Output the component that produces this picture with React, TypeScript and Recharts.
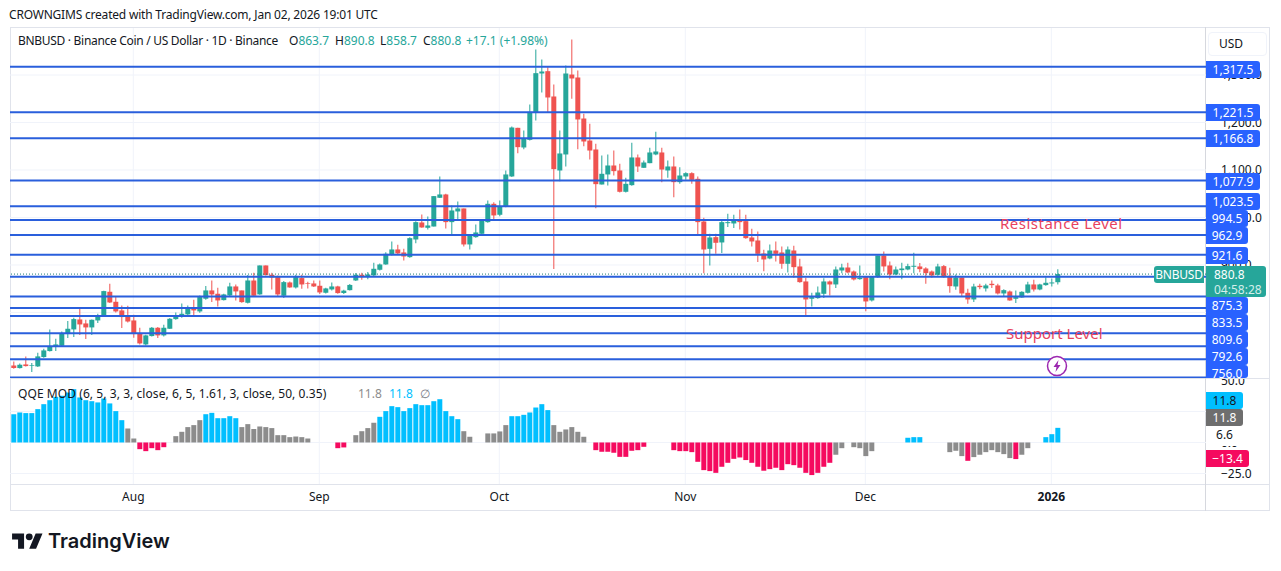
import {
  Bar,
  CartesianGrid,
  Cell,
  ComposedChart,
  ReferenceLine,
  XAxis,
  YAxis,
} from "recharts";

// daily candles, mid July 2025 to Jan 2 2026
const opens = [
  688.5, 682.9, 690.6, 687.8, 686.4, 706.1, 718.7, 727.8, 729.9, 754.5, 764.3, 785.3, 776.9, 768.5, 783.2,
  791.7, 843.6, 822.5, 804.3, 792.4, 783.2, 756.6, 732.7, 750.3, 767.8, 751.7, 765.7, 786, 790.9, 795.9,
  807.8, 802.2, 828.9, 846.4, 839.4, 826, 835.9, 854.8, 846.4, 820.4, 867.4, 838, 899, 879.4, 874.5,
  835.2, 863.2, 852.7, 872.4, 861.8, 861.1, 856.2, 841.5, 848.5, 854.8, 841, 847, 867.4, 879.4, 876,
  878, 889.9, 901.1, 921.5, 932.7, 926.4, 916.5, 953.7, 989.5, 978.3, 981, 1041.5, 1048.5, 990.2, 1012.7,
  1019, 943.2, 958.6, 965.7, 990.2, 1028.8, 1005.7, 1023.9, 1086.4, 1188.8, 1147.4, 1163.5, 1220.4, 1303.2, 1308.1,
  1254.8, 1099, 1132.7, 1301, 1294.8, 1208.4, 1162, 1143.2, 1069.5, 1090.6, 1109.5, 1099, 1054.1, 1068.1, 1126.4,
  1104.6, 1114.4, 1132.7, 1136.9, 1099, 1107.4, 1074.4, 1086.3, 1093.3, 1081.4, 991.6, 934, 958.6, 947.4, 988,
  987.4, 995.8, 992.3, 957.9, 951.6, 924.2, 913.7, 930.5, 926.3, 902.5, 930.5, 896.9, 865.3, 828.8, 830.2,
  839.3, 865.3, 859, 888.4, 894.7, 886.3, 870.2, 874.4, 825.3, 874.4, 920, 899, 880, 889.1, 890.5,
  896.2, 896.9, 892.6, 886.3, 879.3, 897.6, 877.2, 854.7, 873.7, 841.4, 827.4, 856.2, 850.6, 860.4, 856.9,
  840, 844.2, 828.8, 831.6, 841.4, 859, 848.4, 857.6, 861.1, 863.7,
];
const closes = [
  682.9, 689.9, 687.1, 689.2, 707.5, 720.1, 728.5, 732.7, 756.6, 765.7, 786, 774.8, 768.5, 784.6, 792.4,
  845, 821.1, 802.2, 790.3, 781.1, 754.5, 734.8, 751.7, 767.8, 751.7, 767.8, 786.7, 793, 797.3, 809.2,
  804.3, 832.4, 846.4, 838, 825.3, 838, 854.8, 844.3, 821.8, 867.4, 835.2, 899, 878.7, 873.8, 838,
  863.9, 852.7, 874.5, 859, 860.4, 854.8, 842.2, 850.6, 854.8, 840.8, 846, 858, 879.4, 874.5, 880,
  892, 901.1, 923.6, 932.7, 924.3, 917.9, 956.5, 990.2, 979, 983.2, 1045, 1048.5, 990.2, 1014.8, 1019,
  943.2, 962.1, 968.5, 993, 1028.8, 1004.3, 1023.9, 1090.6, 1189.5, 1148.1, 1167, 1222.5, 1303.9, 1307.4, 1252.7,
  1101.8, 1134.8, 1303.2, 1292.7, 1206.4, 1160, 1141, 1070.2, 1092, 1109.5, 1097.6, 1054.1, 1070.9, 1126.4, 1107.4,
  1115.8, 1136.9, 1139, 1101, 1107.4, 1074.4, 1088.4, 1093.3, 1079.3, 990.2, 932.6, 957.9, 946.7, 990.2, 990.2,
  995.1, 990.2, 956.5, 949.5, 923.5, 911.6, 930.5, 923.5, 902.5, 932.6, 895.4, 863.9, 827.4, 832.3, 842.1,
  865.3, 859, 890.5, 894.7, 884.2, 869.5, 873, 823.2, 875.8, 920, 896.9, 880, 890.5, 892.6, 897.6,
  898.3, 891.2, 882.8, 877.9, 896.9, 874.4, 855.4, 873.7, 840, 827.4, 854.7, 853.3, 856.9, 857.6, 840,
  847, 825.3, 832.3, 843.5, 859, 848.4, 859, 862.5, 863.2, 880.8,
];
const highs = [
  696.9, 692.7, 707.5, 693.4, 715.2, 723.6, 764.3, 744.6, 760, 781.8, 788.9, 807.8, 784.6, 785.3, 797.3,
  845.7, 860.4, 833.8, 814.8, 814.1, 795.2, 767.8, 753, 769.2, 769.2, 774.1, 788.1, 800, 819, 814.8,
  826.7, 835.9, 855.5, 867.4, 852, 839.4, 862.5, 859, 846.4, 878.7, 883.6, 899, 899, 883.6, 878,
  866, 865.3, 879.4, 879.4, 864.6, 867.4, 867.4, 852, 863.2, 856.2, 848, 860, 882.9, 883.5, 885,
  904.6, 903.2, 927, 949.5, 942.5, 934, 958.6, 992.3, 1006.4, 1002, 1045, 1086.4, 1049.9, 1025.3, 1033.7,
  1019, 964.2, 985.3, 995.1, 1035.8, 1032.3, 1035.8, 1099, 1191.6, 1188.8, 1183.2, 1237.9, 1353.7, 1332.7, 1316.5,
  1280, 1183.2, 1320, 1374.8, 1309.5, 1218.3, 1197.2, 1155.1, 1130.5, 1132.7, 1141, 1113, 1083.5, 1157.2, 1132.7,
  1120, 1146.7, 1180.4, 1146.7, 1120, 1128.4, 1106, 1095.4, 1095.4, 1086.3, 999.3, 965.6, 965.6, 993.7, 1007.7,
  1005.6, 1016.8, 1005.6, 976.1, 970.5, 931.9, 943.2, 949.5, 939, 939, 940.4, 913, 873, 841.4, 854.8,
  872.3, 867.4, 896.9, 902.5, 904.6, 888.4, 899, 875.8, 875.8, 920, 928.4, 907.4, 896.9, 904.6, 902.5,
  925.6, 903.9, 895.4, 888.4, 902.5, 899.7, 894, 880, 874.4, 849.8, 860.4, 860.4, 860.4, 867.4, 860.4,
  849.1, 846.3, 846.3, 844.9, 864.6, 868.8, 860.4, 874.4, 871.6, 890.8,
];
const lows = [
  681.5, 682.2, 686.4, 674.5, 685, 704.7, 718, 718.7, 728.5, 746, 748.2, 752.4, 744, 752.4, 777.6,
  791, 819.7, 800.1, 767.1, 779, 746.8, 732.7, 730.6, 749.6, 746, 749.6, 765, 784.6, 788.9, 793.8,
  791.7, 799.4, 826.7, 821.8, 812.7, 825.3, 834.5, 825.3, 820.4, 819, 833.8, 837.3, 878, 848.5, 833.8,
  830.3, 852, 850.6, 849.9, 850.6, 853.4, 838.7, 840.1, 846.4, 839.4, 839, 846, 866, 868.8, 870,
  875.8, 888.5, 900.4, 920, 922, 909.5, 915, 946, 978.3, 974.8, 981, 1040.8, 976.9, 962.1, 993.7,
  939, 932.7, 957.2, 964.3, 988.8, 993.7, 1002.8, 1021.8, 1085, 1135.5, 1143.9, 1162.1, 1204.2, 1263.2, 1221.8,
  891.3, 1076.5, 1107.4, 1249.9, 1143.9, 1150.2, 1122, 1019.7, 1069.5, 1067.4, 1088.5, 1052.7, 1052.7, 1066.7, 1096,
  1104.6, 1114.4, 1131.3, 1074.4, 1083.5, 1042.8, 1070.9, 1079.3, 1070.9, 962.1, 882.8, 899, 923.5, 925, 979.7,
  977.6, 974.7, 955.1, 939, 906, 887, 912.3, 907.4, 892, 884.2, 873, 862.5, 793.7, 812.6, 828.8,
  830.2, 835.8, 851.3, 882.8, 882.8, 867.4, 868.8, 802.8, 823.2, 873, 886.3, 870.2, 878.6, 870.2, 889.1,
  882.8, 884.9, 860.4, 873, 877.2, 873, 841.4, 847.7, 834.4, 818.3, 821.8, 849.1, 844.2, 851.3, 837.9,
  833.7, 824.6, 819.7, 830.9, 840, 844.2, 847, 856.2, 854.8, 858.7,
];

// QQE MOD histogram, null = no bar drawn
const qqeValues = [
  22.8, 24.2, 23.7, 23.7, 26.9, 30.9, 34.1, 36.8, 37.6, 40.3, 43, 36.3, 34.1, 33.3, 32.3,
  35.5, 31.5, 25.3, 18, 11.3, 3.2, -5.4, -7, -4.6, -6.2, -3.8, null, 5.1, 8.6, 12.4,
  14, 18, 22.8, 23.9, 19.6, 19.6, 21.2, 19.6, 12.4, 14.8, 10.8, 12.9, 12.4, 11.6, 5.9,
  5.9, 4.3, 4.8, 4.3, 3.2, null, null, null, null, -4.6, -4, null, 5.9, 9.1, 11.6,
  15.9, 20.7, 25.3, 29.3, 28.5, 25.3, 27.7, 30.9, 30.1, 30.1, 33.3, 34.9, 25.3, 21.2, 18.8,
  9.1, 4.6, null, null, 7.3, 7.3, 8.9, 14, 21.2, 21.2, 22.3, 24.2, 28.2, 30.9, 26.1,
  14, 8.6, 10.5, 12.4, 8.6, 4.6, null, -6.2, -7.5, -7.5, -8.3, -11.6, -11.6, -6.7, -6.2,
  -3.5, null, null, null, null, -6.2, -7, -7, -7.8, -15.6, -22.3, -23.1, -24.5, -19.6, -16.4,
  -13.2, -12.1, -14.2, -16.4, -19.6, -22.8, -21.5, -20.4, -22.3, -17.5, -18.3, -20.4, -24.5, -26.3, -24.5,
  -19.6, -16.4, -9.9, -4.6, null, -3.8, -4.6, -11, -7, null, null, null, null, null, 3.8,
  4.3, 4.3, null, null, null, null, -7.8, -6.7, -11, -14.8, -11.8, -9.9, -7.8, -6.2, -7.8,
  -9.4, -12.6, -13.4, -9.9, -4.6, null, null, 4.3, 6.7, 11.8,
];
const qqeShades = [
  "b", "b", "b", "b", "b", "b", "b", "b", "b", "b", "b", "b", "b", "b", "b",
  "b", "b", "b", "b", "g", "g", "p", "p", "p", "p", "p", "g", "g", "g", "g",
  "g", "g", "b", "b", "b", "b", "b", "b", "g", "g", "g", "g", "g", "g", "g",
  "g", "g", "g", "g", "g", "g", "g", "g", "g", "p", "p", "g", "g", "g", "g",
  "g", "b", "b", "b", "b", "b", "b", "b", "b", "b", "b", "b", "b", "b", "b",
  "g", "g", "g", "g", "g", "g", "g", "g", "b", "b", "b", "b", "b", "b", "b",
  "g", "g", "g", "g", "g", "g", "g", "p", "p", "p", "p", "p", "p", "p", "p",
  "p", "p", "p", "p", "p", "p", "p", "p", "p", "p", "p", "p", "p", "p", "p",
  "p", "p", "p", "p", "p", "p", "p", "p", "p", "p", "p", "p", "p", "p", "p",
  "p", "p", "g", "g", "g", "g", "g", "g", "g", "b", "b", "b", "b", "b", "b",
  "b", "b", "g", "g", "g", "g", "g", "g", "g", "p", "g", "g", "g", "g", "g",
  "g", "g", "p", "g", "g", "g", "g", "b", "b", "b",
];

const levelPrices = [1317.5, 1221.5, 1166.8, 1077.9, 1023.5, 994.5, 962.9, 921.6, 875.3, 833.5, 809.6, 792.6, 756.0];
const untaggedLevels = [729, 701.6, 663];
const priceTicks = [1300, 1200, 1100, 1000, 900];
const priceGridValues = [1300, 1200, 1100, 1000, 900, 800, 700];
const qqeTicks = [50, 0, -25];
const qqeGridValues = [25, 0, -25];
const monthTicks = [20, 51, 81, 112, 142, 173];
const monthLabels = ["Aug", "Sep", "Oct", "Nov", "Dec", "2026"];
const lastPrice = 880.8;

const candleData = opens.map((open, i) => ({
  index: i,
  body: [Math.min(open, closes[i]), Math.max(open, closes[i])],
  wick: [lows[i], highs[i]],
  up: closes[i] >= open,
  qqe: qqeValues[i],
  shade: qqeShades[i],
}));

const UP = "#26a69a";
const DOWN = "#ef5350";
const LEVEL = "#2a5fdc";
const TAG = "#2962ff";
const GRID = "#f0f3fa";
const BORDER = "#e0e3eb";
const TEXT = "#131722";
const FONT = "'Noto Sans', sans-serif";
const shadeColors: Record<string, string> = { b: "#00bfff", g: "#8c8c8c", p: "#f50a5f" };
const xDomain = [-0.55, 198.78];

// top edge of each price tag, they get pushed apart when levels sit close
const tagTops = [61, 104, 130, 173, 193, 210, 227, 247, 297, 314, 331, 348, 365];

function Tag({ top, left = 1206, width, height = 17, bg, color = "#fff", children }: any) {
  return (
    <div
      style={{
        position: "absolute",
        top,
        left,
        width,
        height,
        lineHeight: "17px",
        background: bg,
        color,
        fontSize: 12,
        textAlign: "center",
        borderRadius: "0 3px 3px 0",
        overflow: "hidden",
      }}
    >
      {children}
    </div>
  );
}

function MonthTick({ x, y, payload }: any) {
  const label = monthLabels[monthTicks.indexOf(payload.value)];
  return (
    <text
      x={x}
      y={y + 9}
      textAnchor="middle"
      fontSize={12}
      fontFamily={FONT}
      fontWeight={label === "2026" ? 700 : 400}
      fill={TEXT}
    >
      {label}
    </text>
  );
}

function Span({ left, top, color = TEXT, size = 12, spacing = 0, children }: any) {
  return (
    <span style={{ position: "absolute", left, top, color, fontSize: size, letterSpacing: spacing, lineHeight: "16px", whiteSpace: "nowrap" }}>
      {children}
    </span>
  );
}

export default function App() {
  return (
    <div style={{ position: "absolute", left: 0, top: 0, width: 1281, height: 571, background: "#fff", fontFamily: FONT, overflow: "hidden" }}>
      <Span left={9} top={7} spacing={-0.2}>CROWNGIMS created with TradingView.com, Jan 02, 2026 19:01 UTC</Span>

      {/* pane frame */}
      <div style={{ position: "absolute", left: 10, top: 27, width: 1260, height: 484, border: `1px solid ${BORDER}`, boxSizing: "border-box" }} />
      <div style={{ position: "absolute", left: 10, top: 378, width: 1260, height: 1, background: BORDER }} />
      <div style={{ position: "absolute", left: 10, top: 484, width: 1260, height: 1, background: BORDER }} />
      <div style={{ position: "absolute", left: 1205, top: 27, width: 1, height: 484, background: "#d6d8de" }} />

      <div style={{ position: "absolute", left: 0, top: 0 }}>
        <ComposedChart
          width={1281}
          height={378}
          data={candleData}
          margin={{ top: 28, right: 11, bottom: 0, left: 10 }}
        >
          <XAxis xAxisId="wick" dataKey="index" type="number" domain={xDomain} allowDataOverflow hide />
          <XAxis xAxisId="body" dataKey="index" type="number" domain={xDomain} allowDataOverflow hide ticks={monthTicks} />
          <YAxis
            orientation="right"
            width={64}
            domain={[662, 1399]}
            allowDataOverflow
            ticks={priceTicks}
            axisLine={false}
            tickLine={false}
            tickMargin={9}
            tick={{ fontSize: 12, fill: TEXT, fontFamily: FONT }}
            tickFormatter={(v: number) => v.toLocaleString("en-US", { minimumFractionDigits: 1 })}
          />
          <CartesianGrid xAxisId="body" stroke={GRID} verticalValues={monthTicks} horizontalValues={priceGridValues} />
          {levelPrices.concat(untaggedLevels).map((p) => (
            <ReferenceLine key={p} xAxisId="body" y={p} stroke={LEVEL} strokeWidth={2} />
          ))}
          <ReferenceLine xAxisId="body" y={lastPrice} stroke="#1f7f76" strokeDasharray="1 2" />
          <Bar xAxisId="wick" dataKey="wick" barSize={1} isAnimationActive={false}>
            {candleData.map((d) => (
              <Cell key={d.index} fill={d.up ? UP : DOWN} />
            ))}
          </Bar>
          <Bar xAxisId="body" dataKey="body" barSize={5} isAnimationActive={false}>
            {candleData.map((d) => (
              <Cell key={d.index} fill={d.up ? UP : DOWN} />
            ))}
          </Bar>
        </ComposedChart>
      </div>

      <div style={{ position: "absolute", left: 0, top: 379 }}>
        <ComposedChart
          width={1281}
          height={132}
          data={candleData}
          margin={{ top: 0, right: 11, bottom: 0, left: 10 }}
        >
          <XAxis
            dataKey="index"
            type="number"
            domain={xDomain}
            allowDataOverflow
            ticks={monthTicks}
            height={27}
            axisLine={false}
            tickLine={false}
            tick={<MonthTick />}
          />
          <YAxis
            orientation="right"
            width={64}
            domain={[-33.5, 51.2]}
            allowDataOverflow
            ticks={qqeTicks}
            axisLine={false}
            tickLine={false}
            tickMargin={9}
            interval={0}
            tick={{ fontSize: 12, fill: TEXT, fontFamily: FONT }}
            tickFormatter={(v: number) => (v < 0 ? "\u2212" + Math.abs(v).toFixed(1) : v.toFixed(1))}
          />
          <CartesianGrid stroke={GRID} verticalValues={monthTicks} horizontalValues={qqeGridValues} />
          <Bar dataKey="qqe" barSize={5} isAnimationActive={false}>
            {candleData.map((d) => (
              <Cell key={d.index} fill={shadeColors[d.shade]} />
            ))}
          </Bar>
        </ComposedChart>
      </div>

      {/* price tags */}
      {levelPrices.map((p, i) => (
        <Tag
          key={p}
          top={tagTops[i]}
          width={p >= 1000 ? 54 : 42}
          height={i === levelPrices.length - 1 ? 13 : 17}
          bg={TAG}
        >
          {p.toLocaleString("en-US", { minimumFractionDigits: 1 })}
        </Tag>
      ))}
      <div style={{ position: "absolute", left: 1154, top: 266, width: 50, height: 17, lineHeight: "17px", background: "#26a69a", color: "#fff", fontSize: 12, letterSpacing: -0.2, textAlign: "center", borderRadius: "3px 0 0 3px" }}>BNBUSD</div>
      <div style={{ position: "absolute", left: 1206, top: 266, width: 60, height: 31, background: "#26a69a", color: "#fff", fontSize: 12, borderRadius: "0 3px 3px 0", lineHeight: "15px", paddingLeft: 8, paddingTop: 1, boxSizing: "border-box" }}>
        880.8
        <div style={{ color: "#d4eeea" }}>04:58:28</div>
      </div>
      <Tag top={392} width={37} bg="#00bfff" color={TEXT}>11.8</Tag>
      <Tag top={409} width={37} bg="#6e6e6e">11.8</Tag>
      <Tag top={426} width={37} height={20} bg="#fff" color={TEXT}>6.6</Tag>
      <Tag top={450} width={43} bg="#f50a5f">{"\u2212"}13.4</Tag>

      <div style={{ position: "absolute", left: 1208, top: 32, width: 59, height: 24, border: "1px solid #f0f3fa", borderRadius: 4, background: "#fff", fontSize: 12, lineHeight: "22px", paddingLeft: 10, color: TEXT, boxSizing: "border-box" }}>USD</div>

      {/* legend */}
      <Span left={18} top={33} spacing={-0.3}>BNBUSD · Binance Coin / US Dollar · 1D · Binance</Span>
      <Span left={289} top={33}>O<span style={{ color: UP }}>863.7</span></Span>
      <Span left={335} top={33}>H<span style={{ color: UP }}>890.8</span></Span>
      <Span left={380} top={33}>L<span style={{ color: UP }}>858.7</span></Span>
      <Span left={423} top={33}>C<span style={{ color: UP }}>880.8</span></Span>
      <Span left={466} top={33} color={UP}>+17.1 (+1.98%)</Span>

      <Span left={18} top={386} spacing={0.07}>QQE MOD (6, 5, 3, 3, close, 6, 5, 1.61, 3, close, 50, 0.35)</Span>
      <Span left={358} top={386} color="#8c8c8c">11.8</Span>
      <Span left={389} top={386} color="#00bfff">11.8</Span>
      <Span left={420} top={386} color="#787b86">∅</Span>

      {/* drawn annotations */}
      <Span left={1000} top={215} color="#e8435f" size={15} spacing={0.5}>Resistance Level</Span>
      <Span left={1006} top={325} color="#e8435f" size={15}>Support Level</Span>
      <svg style={{ position: "absolute", left: 1046, top: 355 }} width={22} height={22} viewBox="0 0 22 22">
        <circle cx={11} cy={11} r={9.5} fill="#fff" stroke="#9c27b0" strokeWidth={1.5} />
        <path d="M12.5 5 L7.5 12 H10.5 L9.5 17 L14.5 10 H11.5 Z" fill="#9c27b0" />
      </svg>

      {/* footer logo */}
      <svg style={{ position: "absolute", left: 12, top: 530 }} width={31} height={24} viewBox="0 0 36 28">
        <path d="M14 22H7V11H0V4h14v18zM28 22h-8l7.5-18h8L28 22z" fill={TEXT} />
        <circle cx={20} cy={8} r={4} fill={TEXT} />
      </svg>
      <span style={{ position: "absolute", left: 48, top: 527, fontFamily: "Inter, sans-serif", fontWeight: 600, fontSize: 20, lineHeight: "28px", color: TEXT }}>TradingView</span>
    </div>
  );
}
